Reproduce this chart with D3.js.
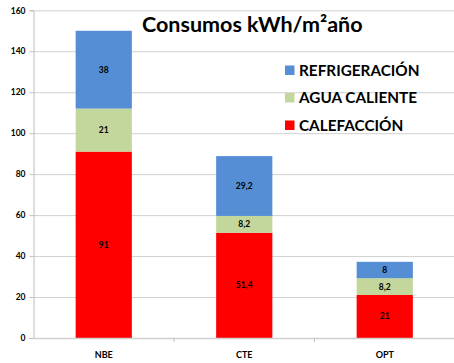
<!DOCTYPE html>
<html>
<head>
<meta charset="utf-8">
<script src="https://cdn.jsdelivr.net/npm/d3@7"></script>
<style>
  body { margin: 0; background: #fff; }
  text { font-family: Lato, "Open Sans", sans-serif; font-weight: bold; }
</style>
</head>
<body>
<svg id="chart" width="454" height="363"></svg>
<script>
// datos del grafico
var categorias = ["NBE", "CTE", "OPT"];
var series = ["CALEFACCIÓN", "AGUA CALIENTE", "REFRIGERACIÓN"];
var calefaccion = [91, 51.4, 21];
var aguaCaliente = [21, 8.2, 8.2];
var refrigeracion = [38, 29.2, 8];
var ticksY = [0, 20, 40, 60, 80, 100, 120, 140, 160];
var colores = ["#ff0000", "#c3d69b", "#558ed5"];

var svg = d3.select("#chart"),
    m = {top: 10.3, right: -1, bottom: 25, left: 33.5},
    w = 454 - m.left - m.right,
    h = 363 - m.top - m.bottom;

var g = svg.append("g").attr("transform", "translate(" + m.left + "," + m.top + ")");

var x = d3.scaleBand().domain(categorias).range([0, w]).paddingInner(0.6).paddingOuter(0.3);
var xb = d3.scaleBand().domain(categorias).range([0, w]); // para las marcas entre categorias
var y = d3.scaleLinear().domain([0, 160]).range([h, 0]);

// lineas de cuadricula
g.append("g").selectAll("line").data(ticksY.slice(1)).enter().append("line")
    .attr("x1", 0).attr("x2", w)
    .attr("y1", function (d) { return y(d) + 0.5; }).attr("y2", function (d) { return y(d) + 0.5; })
    .attr("stroke", "#d0d0d0").attr("stroke-width", 1);

// pilas
var filas = categorias.map(function (c, i) {
    return {cat: c, "CALEFACCIÓN": calefaccion[i], "AGUA CALIENTE": aguaCaliente[i], "REFRIGERACIÓN": refrigeracion[i]};
});
var pila = d3.stack().keys(series)(filas);
var fmt = function (v) { return String(v).replace(".", ","); };

pila.forEach(function (s, k) {
    var capa = g.append("g");
    capa.selectAll("rect").data(s).enter().append("rect")
        .attr("x", function (d) { return x(d.data.cat); })
        .attr("width", x.bandwidth())
        .attr("y", function (d) { return y(d[1]); })
        .attr("height", function (d) { return y(d[0]) - y(d[1]); })
        .attr("fill", colores[k]);
    capa.selectAll("text").data(s).enter().append("text")
        .attr("x", function (d) { return x(d.data.cat) + x.bandwidth() / 2; })
        .attr("y", function (d) { return (y(d[0]) + y(d[1])) / 2 + 3; })
        .attr("text-anchor", "middle")
        .attr("font-size", 8.5)
        .attr("fill", "#000")
        .text(function (d) { return fmt(d.data[s.key]); });
});

// eje y
var yAxis = d3.axisLeft(y).tickValues(ticksY).tickSize(4).tickPadding(4);
var ga = g.append("g").call(yAxis);
ga.select(".domain").attr("stroke", "#bfbfbf");
ga.selectAll(".tick line").attr("stroke", "#bfbfbf");
ga.selectAll("text").attr("font-size", 8.5).attr("fill", "#000")
    .style("font-family", "Lato, sans-serif").style("font-weight", "bold");

// eje x
var gx = g.append("g").attr("transform", "translate(0," + h + ")");
gx.append("line").attr("x1", 0).attr("x2", w).attr("y1", 0.5).attr("y2", 0.5)
    .attr("stroke", "#d0d0d0").attr("stroke-width", 1.5);
gx.selectAll(".marca").data(categorias.slice(1)).enter().append("line")
    .attr("x1", function (d) { return xb(d); }).attr("x2", function (d) { return xb(d); })
    .attr("y1", 0).attr("y2", 4).attr("stroke", "#bfbfbf");
gx.selectAll(".cat").data(categorias).enter().append("text")
    .attr("x", function (d) { return x(d) + x.bandwidth() / 2; })
    .attr("y", 20)
    .attr("text-anchor", "middle")
    .attr("font-size", 9)
    .text(function (d) { return d; });

// titulo
svg.append("text").attr("x", 142).attr("y", 32)
    .attr("font-size", 21.5)
    .text("Consumos kWh/m²año");

// leyenda
var leyenda = svg.append("g");
var orden = [2, 1, 0];
orden.forEach(function (k, i) {
    var ly = 70 + i * 27.5;
    leyenda.append("rect").attr("x", 285).attr("y", ly - 4.5).attr("width", 9.5).attr("height", 9.5).attr("fill", colores[k]);
    leyenda.append("text").attr("x", 299).attr("y", ly + 5.5).attr("font-size", 15.3).text(series[k]);
});
</script>
</body>
</html>
